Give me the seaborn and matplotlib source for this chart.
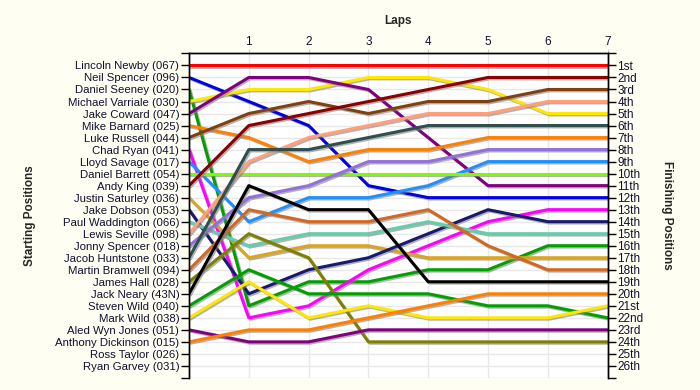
import pandas as pd
import seaborn as sns
import matplotlib.pyplot as plt
import matplotlib.patheffects as pe

# Grid order (starting positions 1..26)
drivers = ["Lincoln Newby (067)", "Neil Spencer (096)", "Daniel Seeney (020)",
           "Michael Varriale (030)", "Jake Coward (047)", "Mike Barnard (025)",
           "Luke Russell (044)", "Chad Ryan (041)", "Lloyd Savage (017)",
           "Daniel Barrett (054)", "Andy King (039)", "Justin Saturley (036)",
           "Jake Dobson (053)", "Paul Waddington (066)", "Lewis Seville (098)",
           "Jonny Spencer (018)", "Jacob Huntstone (033)", "Martin Bramwell (094)",
           "James Hall (028)", "Jack Neary (43N)", "Steven Wild (040)",
           "Mark Wild (038)", "Aled Wyn Jones (051)", "Anthony Dickinson (015)",
           "Ross Taylor (026)", "Ryan Garvey (031)"]

# Position of each racing driver (first 24 of grid) after each lap
lap0 = [1, 2, 3, 4, 5, 6, 7, 8, 9, 10, 11, 12, 13, 14, 15, 16, 17, 18, 19, 20, 21, 22, 23, 24]
lap1 = [1, 4, 21, 3, 2, 7, 5, 22, 14, 10, 6, 17, 20, 16, 9, 12, 8, 13, 15, 11, 18, 19, 24, 23]
lap2 = [1, 6, 19, 3, 2, 9, 4, 21, 12, 10, 5, 16, 18, 15, 7, 11, 8, 14, 17, 13, 20, 22, 24, 23]
lap3 = [1, 11, 19, 2, 3, 8, 5, 18, 12, 10, 4, 16, 17, 15, 6, 9, 7, 14, 24, 13, 20, 21, 23, 22]
lap4 = [1, 12, 18, 2, 7, 8, 4, 16, 11, 10, 3, 17, 15, 14, 5, 9, 6, 13, 24, 19, 20, 22, 23, 21]
lap5 = [1, 12, 18, 3, 11, 7, 4, 14, 9, 10, 2, 17, 13, 15, 5, 8, 6, 16, 24, 19, 21, 22, 23, 20]
lap6 = [1, 12, 16, 5, 11, 7, 3, 13, 9, 10, 2, 17, 14, 15, 4, 8, 6, 18, 24, 19, 21, 22, 23, 20]
lap7 = [1, 12, 16, 5, 11, 7, 3, 13, 9, 10, 2, 17, 14, 15, 4, 8, 6, 18, 24, 19, 22, 21, 23, 20]

colors = ["#FF0000", "#0000E0", "#00A000", "#FFE800", "#800080", "#FF8000",
          "#804010", "#FF00FF", "#1E90FF", "#7CFC00", "#8B0000", "#DAA520",
          "#191970", "#66CDAA", "#FFA07A", "#9370DB", "#2F4F4F", "#D2691E",
          "#808000", "#000000", "#00A000", "#FFE800", "#800080", "#FF8000"]


def ordinal(n):
    if 10 <= n % 100 <= 20:
        return f"{n}th"
    return f"{n}{ {1: 'st', 2: 'nd', 3: 'rd'}.get(n % 10, 'th') }"


laps = [lap0, lap1, lap2, lap3, lap4, lap5, lap6, lap7]
racers = drivers[:len(lap0)]
rows = []
for lap_no, lap in enumerate(laps):
    for name, pos in zip(racers, lap):
        rows.append({"lap": lap_no, "pos": pos, "driver": name})
df = pd.DataFrame(rows)

sns.set_style("white")
plt.rcParams['font.family'] = ['Liberation Sans', 'DejaVu Sans']

bg = "#FFFEF2"
fig = plt.figure(figsize=(7, 3.9), dpi=100, facecolor=bg)
ax = fig.add_axes([0.27, 0.031, 0.598, 0.832])
ax.set_facecolor("white")

shadow = [pe.SimpleLineShadow(offset=(1, -1), shadow_color="gray", alpha=0.6),
          pe.Normal()]
sns.lineplot(data=df, x="lap", y="pos", hue="driver", hue_order=racers,
             palette=colors, legend=False, estimator=None, sort=False,
             lw=2.2, ax=ax, path_effects=shadow)

n = len(drivers)
ax.set_xlim(0, 7)
ax.set_ylim(n + 1, 0)

# x axis on top
ax.xaxis.tick_top()
ax.set_xticks(range(1, 8))
ax.tick_params(axis="x", length=3, color="#CCCCCC", labelsize=8.5, pad=1,
               labelcolor="#101030")
ax.set_xlabel("")
ax.set_title("Laps", fontsize=8.5, fontweight="bold", pad=21)

# y ticks: left = starting grid, right = finishing places
ticks = list(range(0, n + 2))
ax.set_yticks(ticks)
ax.set_yticklabels([""] + drivers + [""])
ax.tick_params(axis="y", length=6, width=1, color="black", labelsize=8.2,
               pad=1, labelcolor="#101030", left=True)
ax.set_ylabel("Starting Positions", fontsize=8.5, fontweight="bold", labelpad=14)

ax2 = ax.twinx()
ax2.set_ylim(n + 1, 0)
ax2.set_yticks(ticks)
ax2.set_yticklabels([""] + [ordinal(i) for i in range(1, n + 1)] + [""])
ax2.tick_params(axis="y", length=6, width=1, color="black", labelsize=8.5,
                pad=1, labelcolor="#101030", right=True)
ax2.set_ylabel("Finishing Positions", fontsize=8.5, fontweight="bold",
               rotation=270, labelpad=21)

ax.grid(True, color="#E8E8E8", lw=1)
ax.set_axisbelow(True)
for a in (ax, ax2):
    a.spines["bottom"].set_visible(False)
    for s in ("top", "left", "right"):
        a.spines[s].set_color("black")
        a.spines[s].set_linewidth(1)

fig.savefig("out.png", dpi=100, facecolor=bg)
